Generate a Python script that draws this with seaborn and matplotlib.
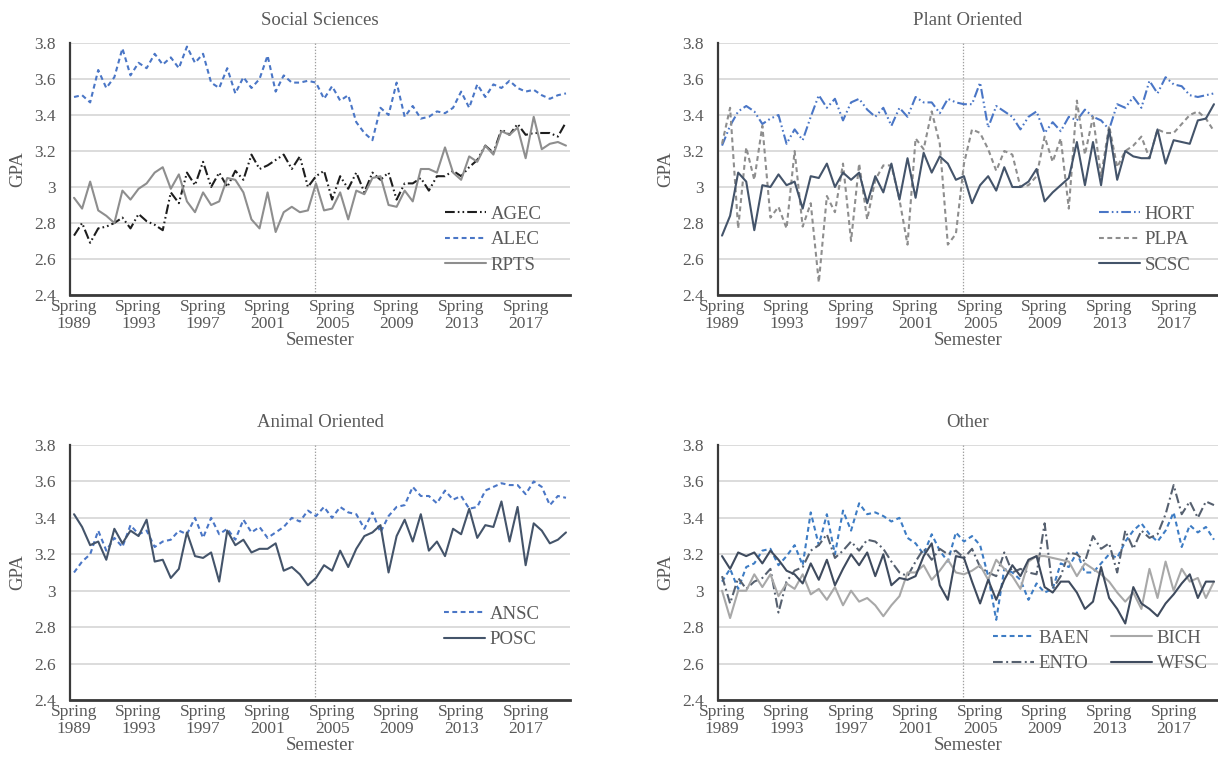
import numpy as np
import pandas as pd
import matplotlib
matplotlib.use("Agg")
import matplotlib.pyplot as plt
from matplotlib.lines import Line2D
import seaborn as sns

# ---------------- data ----------------
years = list(range(1989, 2020))
terms = ["Spring", "Fall"]
semesters = [f"{t} {y}" for y in years for t in terms]          # 62 categories
tick_idx = [0, 8, 16, 24, 32, 40, 48, 56]
tick_labels = ["Spring\n1989", "Spring\n1993", "Spring\n1997", "Spring\n2001",
               "Spring\n2005", "Spring\n2009", "Spring\n2013", "Spring\n2017"]
divider_semester = 29.9   # dotted reference line position (category units)

AGEC = [2.73, 2.80, 2.69, 2.77, 2.78, 2.80, 2.83, 2.77, 2.85, 2.81, 2.79, 2.76, 2.97, 2.91, 3.08, 3.01,
        3.14, 3.00, 3.08, 3.00, 3.09, 3.04, 3.18, 3.10, 3.12, 3.15, 3.18, 3.10, 3.17, 3.00, 3.06, 3.09,
        2.93, 3.06, 2.99, 3.08, 2.97, 3.08, 3.04, 3.08, 2.93, 3.02, 3.02, 3.05, 2.98, 3.06, 3.06, 3.09,
        3.06, 3.11, 3.15, 3.23, 3.19, 3.32, 3.29, 3.35, 3.29, 3.30, 3.30, 3.30, 3.28, 3.36]
ALEC = [3.50, 3.51, 3.47, 3.65, 3.55, 3.61, 3.77, 3.62, 3.69, 3.66, 3.74, 3.68, 3.72, 3.66, 3.78, 3.69,
        3.74, 3.58, 3.55, 3.66, 3.52, 3.61, 3.55, 3.60, 3.73, 3.53, 3.62, 3.58, 3.58, 3.59, 3.58, 3.49,
        3.56, 3.48, 3.51, 3.36, 3.30, 3.26, 3.44, 3.40, 3.58, 3.39, 3.45, 3.38, 3.39, 3.42, 3.41, 3.44,
        3.53, 3.44, 3.57, 3.50, 3.57, 3.55, 3.59, 3.55, 3.53, 3.54, 3.51, 3.49, 3.51, 3.52]
RPTS = [2.94, 2.88, 3.03, 2.87, 2.84, 2.80, 2.98, 2.93, 2.99, 3.02, 3.08, 3.11, 2.99, 3.07, 2.92, 2.86,
        2.97, 2.90, 2.92, 3.05, 3.04, 2.97, 2.82, 2.77, 2.97, 2.75, 2.86, 2.89, 2.86, 2.87, 3.02, 2.87,
        2.88, 2.97, 2.82, 2.98, 2.96, 3.05, 3.06, 2.90, 2.89, 2.98, 2.92, 3.10, 3.10, 3.08, 3.22, 3.08,
        3.04, 3.17, 3.14, 3.23, 3.18, 3.31, 3.29, 3.33, 3.16, 3.39, 3.21, 3.24, 3.25, 3.23]

HORT = [3.23, 3.34, 3.42, 3.45, 3.42, 3.35, 3.38, 3.40, 3.24, 3.32, 3.26, 3.39, 3.51, 3.44, 3.49, 3.37,
        3.47, 3.49, 3.43, 3.39, 3.44, 3.34, 3.44, 3.39, 3.50, 3.47, 3.47, 3.41, 3.49, 3.47, 3.46, 3.46,
        3.58, 3.33, 3.45, 3.42, 3.39, 3.32, 3.39, 3.42, 3.30, 3.36, 3.31, 3.39, 3.37, 3.43, 3.39, 3.37,
        3.32, 3.46, 3.44, 3.50, 3.44, 3.59, 3.52, 3.61, 3.57, 3.56, 3.51, 3.50, 3.51, 3.52]
PLPA = [3.24, 3.44, 2.77, 3.22, 3.04, 3.34, 2.83, 2.89, 2.77, 3.20, 2.78, 2.91, 2.47, 2.95, 2.86, 3.13,
        2.70, 3.13, 2.82, 3.04, 3.12, 3.12, 2.93, 2.68, 3.27, 3.21, 3.42, 3.24, 2.68, 2.74, 3.13, 3.32,
        3.30, 3.21, 3.09, 3.20, 3.18, 3.00, 3.01, 3.06, 3.28, 3.14, 3.27, 2.88, 3.48, 3.18, 3.39, 3.06,
        3.34, 3.11, 3.20, 3.23, 3.28, 3.16, 3.32, 3.30, 3.30, 3.35, 3.40, 3.42, 3.38, 3.31]
SCSC = [2.73, 2.84, 3.08, 3.03, 2.76, 3.01, 3.00, 3.07, 3.01, 3.03, 2.88, 3.06, 3.05, 3.13, 3.00, 3.08,
        3.04, 3.08, 2.91, 3.06, 2.97, 3.13, 2.93, 3.16, 2.94, 3.19, 3.08, 3.17, 3.13, 3.04, 3.06, 2.91,
        3.01, 3.06, 2.98, 3.11, 3.00, 3.00, 3.03, 3.10, 2.92, 2.97, 3.01, 3.05, 3.25, 3.01, 3.25, 3.01,
        3.32, 3.04, 3.20, 3.17, 3.16, 3.16, 3.32, 3.13, 3.26, 3.25, 3.24, 3.37, 3.38, 3.46]

ANSC = [3.10, 3.16, 3.20, 3.33, 3.22, 3.29, 3.24, 3.36, 3.31, 3.33, 3.24, 3.27, 3.28, 3.33, 3.31, 3.40,
        3.29, 3.40, 3.31, 3.34, 3.28, 3.39, 3.32, 3.35, 3.29, 3.32, 3.35, 3.40, 3.38, 3.44, 3.41, 3.46,
        3.40, 3.46, 3.43, 3.42, 3.34, 3.43, 3.32, 3.41, 3.46, 3.47, 3.57, 3.52, 3.52, 3.48, 3.55, 3.50,
        3.52, 3.45, 3.46, 3.55, 3.57, 3.59, 3.58, 3.58, 3.53, 3.60, 3.57, 3.47, 3.52, 3.51]
POSC = [3.42, 3.35, 3.25, 3.27, 3.17, 3.34, 3.26, 3.33, 3.30, 3.39, 3.16, 3.17, 3.07, 3.12, 3.32, 3.19,
        3.18, 3.21, 3.05, 3.33, 3.25, 3.28, 3.21, 3.23, 3.23, 3.26, 3.11, 3.13, 3.09, 3.03, 3.07, 3.14,
        3.11, 3.22, 3.13, 3.23, 3.30, 3.32, 3.36, 3.10, 3.30, 3.39, 3.27, 3.42, 3.22, 3.27, 3.19, 3.34,
        3.31, 3.45, 3.29, 3.36, 3.35, 3.49, 3.27, 3.46, 3.14, 3.37, 3.33, 3.26, 3.28, 3.32]

BAEN = [3.05, 3.12, 3.01, 3.13, 3.15, 3.22, 3.23, 3.14, 3.19, 3.25, 3.14, 3.43, 3.25, 3.42, 3.20, 3.44,
        3.33, 3.48, 3.42, 3.43, 3.41, 3.38, 3.40, 3.29, 3.26, 3.20, 3.31, 3.22, 3.16, 3.32, 3.27, 3.30,
        3.25, 3.08, 2.84, 3.12, 3.10, 3.06, 2.95, 3.04, 2.99, 3.01, 3.15, 3.13, 3.21, 3.10, 3.10, 3.15,
        3.20, 3.18, 3.27, 3.33, 3.37, 3.31, 3.27, 3.33, 3.43, 3.24, 3.36, 3.32, 3.35, 3.28]
BICH = [3.00, 2.85, 3.00, 3.00, 3.09, 3.02, 3.09, 2.97, 3.04, 3.01, 3.09, 2.98, 3.01, 2.95, 3.02, 2.92,
        3.00, 2.94, 2.96, 2.92, 2.86, 2.92, 2.97, 3.10, 3.10, 3.14, 3.06, 3.11, 3.17, 3.10, 3.09, 3.11,
        3.14, 3.06, 3.17, 3.12, 3.08, 3.01, 3.16, 3.19, 3.19, 3.18, 3.17, 3.16, 3.08, 3.15, 3.12, 3.09,
        3.05, 2.99, 2.94, 2.99, 2.90, 3.12, 2.96, 3.16, 3.00, 3.12, 3.05, 3.07, 2.96, 3.05]
ENTO = [3.08, 2.93, 3.07, 3.01, 3.05, 3.07, 3.12, 2.88, 3.05, 3.11, 3.13, 3.22, 3.25, 3.31, 3.18, 3.22,
        3.27, 3.22, 3.28, 3.27, 3.23, 3.16, 3.10, 3.08, 3.16, 3.23, 3.17, 3.23, 3.20, 3.22, 3.18, 3.23,
        3.13, 3.10, 3.08, 3.21, 3.10, 3.12, 3.10, 3.09, 3.37, 3.01, 3.08, 3.21, 3.20, 3.16, 3.30, 3.23,
        3.26, 3.10, 3.33, 3.23, 3.33, 3.29, 3.31, 3.42, 3.58, 3.42, 3.49, 3.40, 3.49, 3.47]
WFSC = [3.19, 3.12, 3.21, 3.19, 3.21, 3.15, 3.22, 3.17, 3.11, 3.09, 3.04, 3.15, 3.06, 3.17, 3.03, 3.12,
        3.20, 3.14, 3.21, 3.08, 3.20, 3.03, 3.07, 3.06, 3.08, 3.19, 3.26, 3.03, 2.95, 3.19, 3.18, 3.05,
        2.93, 3.06, 2.95, 3.06, 3.14, 3.08, 3.17, 3.19, 3.02, 2.99, 3.05, 3.05, 2.99, 2.90, 2.94, 3.13,
        2.96, 2.90, 2.82, 3.02, 2.93, 2.90, 2.86, 2.93, 2.98, 3.04, 3.09, 2.96, 3.05, 3.05]

panel_titles = ["Social Sciences", "Plant Oriented", "Animal Oriented", "Other"]
panel_series = [
    {"AGEC": AGEC, "ALEC": ALEC, "RPTS": RPTS},
    {"HORT": HORT, "PLPA": PLPA, "SCSC": SCSC},
    {"ANSC": ANSC, "POSC": POSC},
    {"BAEN": BAEN, "ENTO": ENTO, "BICH": BICH, "WFSC": WFSC},
]

# ---------------- styles ----------------
BLUE = "#4A76C6"
colors = {"AGEC": "#1E1E1E", "ALEC": BLUE, "RPTS": "#8E8E8E",
          "HORT": BLUE, "PLPA": "#8E8E8E", "SCSC": "#44546A",
          "ANSC": BLUE, "POSC": "#44546A",
          "BAEN": "#3D7CC4", "BICH": "#A8A8A8", "ENTO": "#56606F", "WFSC": "#3F4B5E"}
LDD = (7, 2.2, 1.2, 2.2, 1.2, 2.2)
DASH = (3.5, 2.5)
LD = (7, 2.5, 1.4, 2.5)
dash_map = {"AGEC": LDD, "ALEC": DASH, "RPTS": "",
            "HORT": LDD, "PLPA": DASH, "SCSC": "",
            "ANSC": DASH, "POSC": "",
            "BAEN": DASH, "BICH": "", "ENTO": LD, "WFSC": ""}

sns.set_theme(style="white")
plt.rcParams["font.family"] = ["Liberation Serif", "DejaVu Serif"]
plt.rcParams["lines.scale_dashes"] = False

TXT = "#595959"
W, H = 1218, 766
fig = plt.figure(figsize=(W / 100, H / 100), dpi=100)

def rect(x0, y_top, x1, y_bot):
    return [x0 / W, 1 - y_bot / H, (x1 - x0) / W, (y_bot - y_top) / H]

rects = [rect(70, 43, 570, 295), rect(718, 43, 1218, 295),
         rect(70, 445, 570, 700), rect(718, 445, 1218, 700)]
legend_cfg = [
    dict(loc="upper left", bbox_to_anchor=(0.735, 0.385), ncol=1),
    dict(loc="upper left", bbox_to_anchor=(0.747, 0.385), ncol=1),
    dict(loc="upper left", bbox_to_anchor=(0.732, 0.40), ncol=1),
    dict(loc="upper left", bbox_to_anchor=(0.535, 0.305), ncol=2),
]

for k in range(4):
    ax = fig.add_axes(rects[k])
    series = panel_series[k]
    df = pd.concat([pd.DataFrame({"sem": np.arange(len(semesters)), "gpa": vals, "dept": name})
                    for name, vals in series.items()], ignore_index=True)
    names = list(series.keys())
    sns.lineplot(data=df, x="sem", y="gpa", hue="dept", style="dept", hue_order=names,
                 style_order=names, palette={n: colors[n] for n in names},
                 dashes={n: dash_map[n] for n in names}, linewidth=1.5,
                 errorbar=None, legend=False, ax=ax)
    ax.axvline(divider_semester, color="#A0A0A0", ls=(0, (1, 1.2)), lw=0.9, zorder=1)

    ax.set_xlim(-0.5, len(semesters) - 0.5)
    ax.set_ylim(2.4, 3.8)
    yt = [2.4, 2.6, 2.8, 3.0, 3.2, 3.4, 3.6, 3.8]
    ax.set_yticks(yt)
    ax.set_yticklabels([f"{v:g}" for v in yt])
    ax.set_xticks(tick_idx)
    ax.set_xticklabels(tick_labels, linespacing=1.05)
    ax.tick_params(axis="both", length=0, labelsize=12.5, labelcolor=TXT)
    ax.tick_params(axis="y", pad=10)
    ax.tick_params(axis="x", pad=3)
    ax.yaxis.grid(True, color="#D9D9D9", lw=1.3)
    ax.xaxis.grid(False)
    ax.set_axisbelow(True)
    for s in ("top", "right"):
        ax.spines[s].set_visible(False)
    ax.spines["left"].set_color("#3A3A3A")
    ax.spines["left"].set_linewidth(1.6)
    ax.spines["bottom"].set_color("#3A3A3A")
    ax.spines["bottom"].set_linewidth(2.0)
    ax.set_title(panel_titles[k], fontsize=13.5, color=TXT, pad=13)
    ax.set_xlabel("Semester", fontsize=13.5, color=TXT, labelpad=0)
    ax.set_ylabel("GPA", fontsize=13.5, color=TXT, labelpad=6)

    handles = []
    for n in names:
        h = Line2D([], [], color=colors[n], lw=1.5)
        if dash_map[n]:
            h.set_dashes(dash_map[n])
        else:
            h.set_linestyle("-")
        handles.append(h)
    leg = ax.legend(handles, names, frameon=False, fontsize=13.5, handlelength=2.2,
                    handletextpad=0.25, labelspacing=0.45, columnspacing=1.1,
                    borderaxespad=0, **legend_cfg[k])
    for t in leg.get_texts():
        t.set_color(TXT)

fig.savefig("out.png", dpi=100, facecolor="white")
